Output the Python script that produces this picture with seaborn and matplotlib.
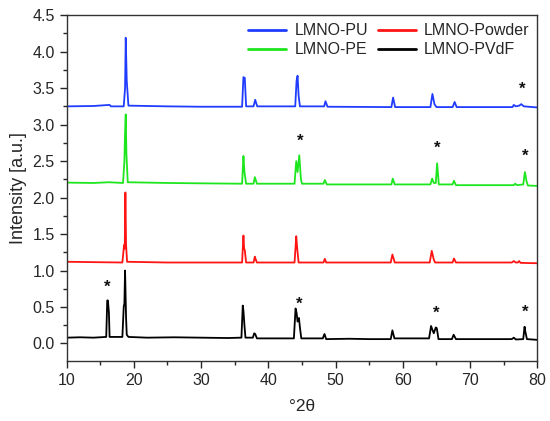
import matplotlib
matplotlib.use("Agg")
import matplotlib.pyplot as plt
import pandas as pd
import seaborn as sns
from matplotlib.ticker import MultipleLocator

sns.set_style("ticks")
plt.rcParams["font.family"] = ["Liberation Sans", "DejaVu Sans"]

# (2theta, intensity) points, one list per sample
pvdf_pts = [
    (10, 0.08), (12, 0.085), (14, 0.08), (15.9, 0.09), (16.05, 0.59), (16.15, 0.59),
    (16.3, 0.42), (16.4, 0.09), (16.55, 0.09), (18.3, 0.09), (18.5, 0.5), (18.6, 0.55),
    (18.7, 1.0), (18.85, 0.35), (18.95, 0.12), (19.2, 0.09), (22, 0.08), (26, 0.085),
    (30, 0.08), (34, 0.075), (36.0, 0.08), (36.2, 0.52), (36.3, 0.45), (36.45, 0.25),
    (36.6, 0.08), (37.7, 0.08), (37.9, 0.14), (38.05, 0.13), (38.3, 0.07), (43.8, 0.07),
    (44.05, 0.48), (44.2, 0.42), (44.35, 0.3), (44.55, 0.35), (44.7, 0.22), (44.9, 0.07),
    (48.1, 0.07), (48.35, 0.13), (48.6, 0.06), (52, 0.065), (55, 0.06), (58.2, 0.06),
    (58.45, 0.18), (58.75, 0.07), (63.9, 0.07), (64.2, 0.24), (64.35, 0.2), (64.6, 0.14),
    (64.9, 0.22), (65.05, 0.21), (65.3, 0.06), (67.3, 0.06), (67.55, 0.12), (67.9, 0.06),
    (72, 0.06), (76.2, 0.06), (76.5, 0.08), (76.8, 0.055), (77.9, 0.06), (78.1, 0.23),
    (78.2, 0.17), (78.45, 0.06), (80, 0.05),
]
powder_pts = [
    (10, 1.12), (14, 1.115), (18.3, 1.11), (18.55, 1.35), (18.65, 1.3), (18.75, 2.07),
    (18.85, 1.35), (19.0, 1.12), (25, 1.11), (33, 1.11), (36.1, 1.11), (36.3, 1.48),
    (36.4, 1.3), (36.5, 1.28), (36.7, 1.11), (37.8, 1.11), (38.0, 1.19), (38.1, 1.16),
    (38.3, 1.11), (43.9, 1.11), (44.15, 1.47), (44.3, 1.3), (44.5, 1.11), (48.2, 1.11),
    (48.4, 1.16), (48.6, 1.11), (58.2, 1.11), (58.45, 1.22), (58.8, 1.11), (64.0, 1.11),
    (64.3, 1.27), (64.6, 1.15), (64.8, 1.11), (67.4, 1.11), (67.6, 1.165), (67.9, 1.11),
    (76.2, 1.11), (76.5, 1.13), (76.8, 1.11), (77.1, 1.11), (77.3, 1.13), (77.5, 1.105),
    (80, 1.10),
]
pe_pts = [
    (10, 2.205), (14, 2.2), (16.3, 2.21), (18.4, 2.2), (18.6, 2.5), (18.7, 2.9),
    (18.8, 3.14), (18.9, 2.6), (19.1, 2.21), (25, 2.2), (30, 2.195), (36.1, 2.19),
    (36.3, 2.57), (36.45, 2.35), (36.7, 2.19), (37.8, 2.19), (38.0, 2.28), (38.3, 2.19),
    (43.9, 2.19), (44.15, 2.5), (44.35, 2.35), (44.6, 2.58), (44.85, 2.25), (45.0, 2.19),
    (48.2, 2.19), (48.4, 2.24), (48.7, 2.18), (58.3, 2.18), (58.5, 2.26), (58.8, 2.18),
    (64.1, 2.18), (64.35, 2.26), (64.6, 2.2), (64.9, 2.2), (65.1, 2.47), (65.35, 2.18),
    (67.4, 2.18), (67.6, 2.23), (67.9, 2.17), (76.5, 2.17), (76.7, 2.19), (77.0, 2.17),
    (77.9, 2.18), (78.15, 2.35), (78.4, 2.22), (78.6, 2.165), (80, 2.16),
]
pu_pts = [
    (10, 3.25), (14, 3.255), (16.4, 3.27), (16.6, 3.25), (18.5, 3.25), (18.7, 3.5),
    (18.8, 4.19), (18.95, 3.6), (19.2, 3.26), (25, 3.25), (30, 3.245), (36.1, 3.245),
    (36.3, 3.65), (36.5, 3.64), (36.7, 3.25), (37.8, 3.25), (38.05, 3.34), (38.35, 3.25),
    (44.0, 3.25), (44.2, 3.6), (44.35, 3.67), (44.5, 3.4), (44.7, 3.25), (48.3, 3.25),
    (48.5, 3.32), (48.8, 3.245), (58.3, 3.24), (58.55, 3.37), (58.85, 3.24), (64.1, 3.24),
    (64.4, 3.42), (64.7, 3.28), (65.0, 3.24), (67.4, 3.24), (67.7, 3.31), (68.0, 3.24),
    (76.3, 3.24), (76.5, 3.27), (76.8, 3.25), (77.3, 3.26), (77.6, 3.28), (78.0, 3.25),
    (80, 3.235),
]

# impurity markers (*)
star_x = [16.1, 44.6, 65.0, 78.2, 44.7, 65.1, 78.2, 77.8]
star_y = [0.67, 0.44, 0.31, 0.32, 2.67, 2.57, 2.46, 3.38]

series = {
    "LMNO-PU": (pu_pts, "#1f3cff"),
    "LMNO-PE": (pe_pts, "#1ee61e"),
    "LMNO-Powder": (powder_pts, "#ff1414"),
    "LMNO-PVdF": (pvdf_pts, "#000000"),
}

fig, ax = plt.subplots(figsize=(5.5, 4.21), dpi=100)
fig.subplots_adjust(left=0.121, right=0.977, top=0.964, bottom=0.1425)

for name, (pts, color) in series.items():
    df = pd.DataFrame(pts, columns=["two_theta", "intensity"])
    sns.lineplot(df, x="two_theta", y="intensity", ax=ax, color=color,
                 lw=1.3, label=name, estimator=None, sort=False)

for x, y in zip(star_x, star_y):
    ax.text(x, y, "*", ha="center", va="bottom", fontsize=12,
            fontweight="bold", color="#111111")

ax.set_xlim(10, 80)
ax.set_ylim(-0.24, 4.5)
ax.xaxis.set_major_locator(MultipleLocator(10))
ax.xaxis.set_minor_locator(MultipleLocator(5))
ax.yaxis.set_major_locator(MultipleLocator(0.5))
ax.yaxis.set_minor_locator(MultipleLocator(0.25))
ax.tick_params(which="major", length=5, width=1, labelsize=11.5, direction="out")
ax.tick_params(which="minor", length=3, width=1, direction="out")
for s in ax.spines.values():
    s.set_color("#333333")
    s.set_linewidth(1)
ax.set_xlabel("°2θ", fontsize=12.5, labelpad=8)
ax.set_ylabel("Intensity [a.u.]", fontsize=13)

leg = ax.legend(loc="upper right", ncol=2, frameon=False, fontsize=11.5,
                handlelength=2.4, handletextpad=0.5, columnspacing=0.6,
                labelspacing=0.25, borderaxespad=0.4, borderpad=0.1)
for line in leg.get_lines():
    line.set_linewidth(2)

fig.savefig("out.png", dpi=100)
